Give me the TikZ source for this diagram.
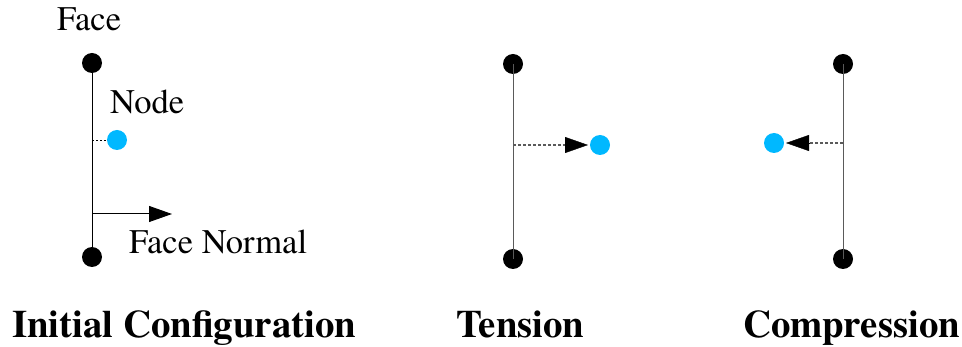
\documentclass[tikz,border=0pt]{standalone}
\usepackage{fontspec}
\newfontfamily\lsf{TeX Gyre Termes}
\usetikzlibrary{arrows.meta}
\definecolor{nodecyan}{RGB}{0,184,255}
\definecolor{facegray}{RGB}{90,90,90}
\begin{document}
\begin{tikzpicture}[x=1pt,y=-1pt]
\tikzset{
  facedot/.style={circle,fill=black,inner sep=0pt,minimum size=20pt},
  cyandot/.style={circle,fill=nodecyan,inner sep=0pt,minimum size=20pt},
  lbl/.style={anchor=base west,inner sep=0pt,font=\fontsize{34.5}{40}\selectfont\lsf},
  ttl/.style={anchor=base west,inner sep=0pt,font=\fontsize{38.8}{44}\selectfont\lsf\bfseries},
  tip/.style={-{Triangle[length=23pt,width=16pt]}},
  dots/.style={dash pattern=on 3pt off 2pt,line width=1.3pt}}
\useasboundingbox (0,0) rectangle (962,347);
% Panel 1
\node[facedot] (t1) at (92,63) {};
\node[facedot] (b1) at (92,257) {};
\draw[line width=1pt] (t1.center) -- (b1.center);
\node[cyandot] (n1) at (117,140) {};
\coordinate (p1) at (92,140);
\draw[dash pattern=on 2pt off 2pt,line width=0.8pt] (p1) -- (n1.west);
\coordinate (a1) at (92,214);
\coordinate (a1e) at (172,214);
\draw[line width=1pt,tip] (a1) -- (a1e);
\node[lbl] (face) at (57,31) {Face};
\node[lbl] (nodel) at (110,114) {Node};
\node[lbl] (fn) at (129,254) {Face Normal};
\node[ttl] (ic) at (12,338) {Initial Configuration};
% Panel 2
\node[facedot] (t2) at (513,64) {};
\node[facedot] (b2) at (513,259) {};
\draw[line width=1pt,facegray] (t2.center) -- (b2.center);
\node[cyandot] (n2) at (600,145) {};
\coordinate (p2) at (513,145);
\coordinate (m2) at (565,145);
\coordinate (e2) at (588,145);
\draw[dots,facegray] (p2) -- (m2);
\draw[tip] (m2) -- (e2);
\node[ttl] (ten) at (456,338) {Tension};
% Panel 3
\node[facedot] (t3) at (843,64) {};
\node[facedot] (b3) at (843,259) {};
\draw[line width=1pt,facegray] (t3.center) -- (b3.center);
\node[cyandot] (n3) at (774,143) {};
\coordinate (p3) at (843,143);
\coordinate (m3) at (809,143);
\coordinate (e3) at (786,143);
\draw[dots,facegray] (p3) -- (m3);
\draw[tip] (m3) -- (e3);
\node[ttl] (comp) at (743,338) {Compression};
\end{tikzpicture}
\end{document}
